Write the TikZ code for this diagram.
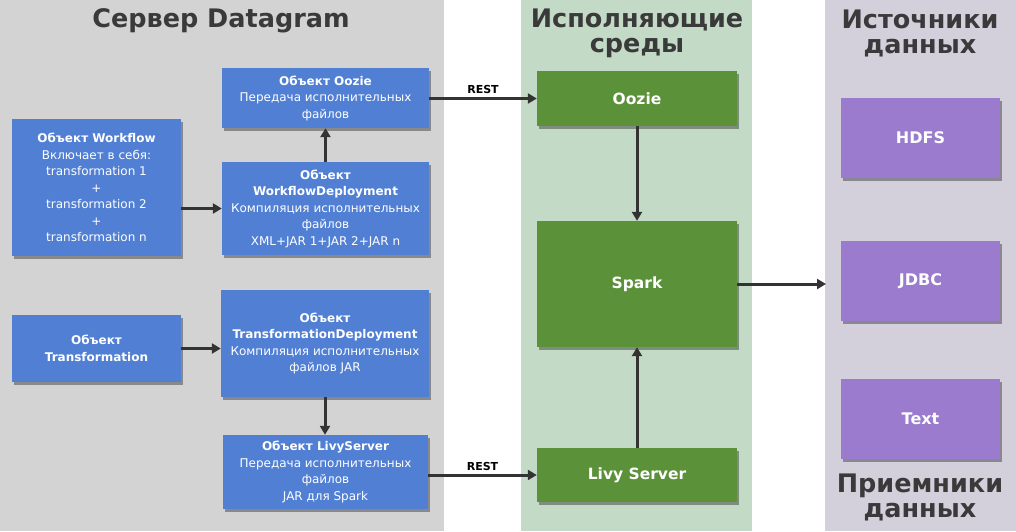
\documentclass[tikz,border=0pt]{standalone}
\usepackage{fontspec}
\setmainfont{DejaVu Sans}
\usetikzlibrary{shadows,arrows.meta}

\definecolor{objblue}{RGB}{80,127,212}
\definecolor{envgreen}{RGB}{91,145,57}
\definecolor{datapurple}{RGB}{154,123,206}
\definecolor{srvgrey}{RGB}{211,211,211}
\definecolor{envpanel}{RGB}{195,218,198}
\definecolor{datapanel}{RGB}{211,208,220}
\definecolor{titlegrey}{RGB}{58,58,58}
\definecolor{linegrey}{RGB}{51,51,51}

\tikzset{
  shadowed/.style={drop shadow={shadow xshift=2pt, shadow yshift=-3pt, fill=black, opacity=0.35}},
  objbox/.style={rectangle, fill=objblue, text=white, align=center, inner sep=1pt, shadowed,
    font=\fontsize{12}{16.5}\selectfont},
  envbox/.style={rectangle, fill=envgreen, text=white, align=center, shadowed,
    minimum width=200pt, font=\fontsize{15.5}{17}\selectfont\bfseries},
  databox/.style={rectangle, fill=datapurple, text=white, align=center, shadowed,
    minimum width=159pt, minimum height=80pt, font=\fontsize{16}{18}\selectfont\bfseries},
  paneltitle/.style={text=titlegrey, align=center, font=\fontsize{25.5}{25}\selectfont\bfseries},
  flow/.style={draw=linegrey, line width=3pt, -{Triangle[length=9pt,width=10pt]}},
  restlabel/.style={above, font=\fontsize{11}{11}\selectfont\bfseries, inner sep=3pt}
}

\begin{document}
\begin{tikzpicture}[x=1pt,y=-1pt]
\useasboundingbox (0,0) rectangle (1016,531);
% panels
\fill[srvgrey] (0,0) rectangle (444,531);
\fill[envpanel] (521,0) rectangle (752,531);
\fill[datapanel] (825,0) rectangle (1016,531);

% titles
\node[paneltitle] (srvtitle) at (221,21) {Сервер Datagram};
\node[paneltitle] (envtitle) at (637,33) {Исполняющие\\среды};
\node[paneltitle] (srctitle) at (920,33) {Источники\\данных};
\node[paneltitle] (dsttitle) at (920,497) {Приемники\\данных};

% Datagram objects
\node[objbox, minimum width=207pt, minimum height=60pt] (oozieobj) at (325.5,98)
  {\textbf{Объект Oozie}\\Передача исполнительных\\файлов};
\node[objbox, minimum width=169pt, minimum height=137pt] (workflow) at (96.5,187.5)
  {\textbf{Объект Workflow}\\Включает в себя:\\transformation 1\\+\\transformation 2\\+\\transformation n};
\node[objbox, minimum width=207pt, minimum height=93pt] (wfdeploy) at (325.5,208.5)
  {\textbf{Объект}\\\textbf{WorkflowDeployment}\\Компиляция исполнительных\\файлов\\XML+JAR 1+JAR 2+JAR n};
\node[objbox, minimum width=169pt, minimum height=67pt] (transform) at (96.5,348.5)
  {\textbf{Объект}\\\textbf{Transformation}};
\node[objbox, minimum width=208pt, minimum height=107pt] (trdeploy) at (325,343.5)
  {\textbf{Объект}\\\textbf{TransformationDeployment}\\Компиляция исполнительных\\файлов JAR};
\node[objbox, minimum width=205pt, minimum height=74pt] (livyobj) at (325.5,472)
  {\textbf{Объект LivyServer}\\Передача исполнительных\\файлов\\JAR для Spark};

% runtime environments
\node[envbox, minimum height=55pt] (oozie) at (637,98.5) {Oozie};
\node[envbox, minimum height=126pt] (spark) at (637,284) {Spark};
\node[envbox, minimum height=54pt] (livy) at (637,475) {Livy Server};

% data sources and sinks
\node[databox] (hdfs) at (920.5,138) {HDFS};
\node[databox] (jdbc) at (920.5,281) {JDBC};
\node[databox] (text) at (920.5,419) {Text};
\coordinate (sinkedge) at (826,284);

% connectors
\draw[flow] (workflow.east |- wfdeploy.center) -- (wfdeploy.west);
\draw[flow] (wfdeploy.north) -- (oozieobj.south);
\draw[flow] (transform.east) -- (transform.east -| trdeploy.west);
\draw[flow] (trdeploy.south) -- (trdeploy.south |- livyobj.north);
\draw[flow] (oozieobj.east |- oozie.center) -- node[restlabel] {REST} (oozie.west);
\draw[flow] (livyobj.east |- livy.center) -- node[restlabel] {REST} (livy.west);
\draw[flow] (oozie.south) -- (spark.north);
\draw[flow] (livy.north) -- (spark.south);
\draw[flow] (spark.east |- sinkedge) -- (sinkedge);
\end{tikzpicture}
\end{document}
